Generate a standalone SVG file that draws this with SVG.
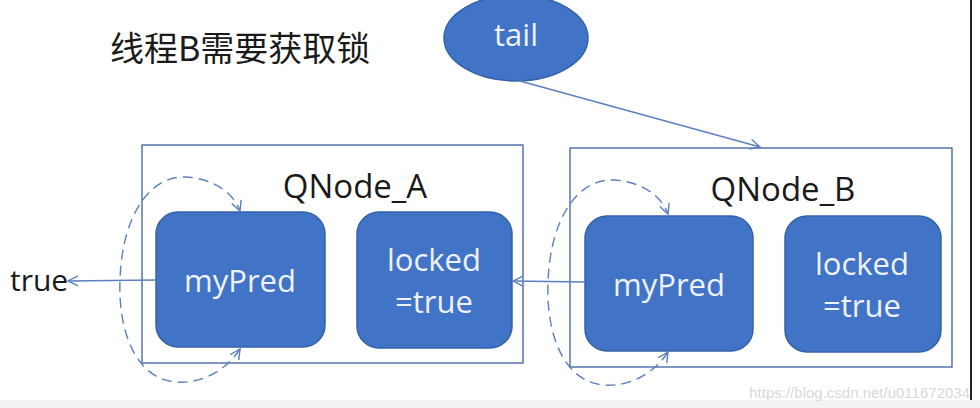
<svg xmlns="http://www.w3.org/2000/svg" width="980" height="408" viewBox="0 0 980 408">
<defs>
<style>
.node{fill:#4173C6;stroke:#3462A8;stroke-width:1.5}
.box{fill:none;stroke:#3C5F9E;stroke-width:1.3}
.nt{font-family:"Open Sans","Noto Sans",sans-serif;font-size:31px;fill:#EEF2FA;text-anchor:middle}
.lab{font-family:"Open Sans","Noto Sans",sans-serif;font-size:33px;fill:#1a1a1a;text-anchor:middle}
.ln{fill:none;stroke:#5B7FC0;stroke-width:1.4}
.dash{fill:none;stroke:#5B7FC0;stroke-width:1.4;stroke-dasharray:10 6}
</style>
<marker id="arr" viewBox="0 0 12 12" refX="11" refY="6" markerWidth="12" markerHeight="12" markerUnits="userSpaceOnUse" orient="auto-start-reverse">
<path d="M1,1 L11,6 L1,11" fill="none" stroke="#5B7FC0" stroke-width="1.4"/>
</marker>
</defs>
<rect width="980" height="408" fill="#ffffff"/>
<rect x="0" y="400" width="980" height="8" fill="#F2F2F2"/>
<line x1="971" y1="0" x2="971" y2="400" stroke="#222" stroke-width="2"/>
<text x="110" y="61" font-family="'Noto Sans CJK SC',sans-serif" font-size="34" fill="#1a1a1a">线程B需要获取锁</text>
<g id="tail">
<ellipse cx="516" cy="38" rx="72" ry="43" class="node"/>
<text x="516" y="46" class="nt">tail</text>
</g>
<g id="QNode_A">
<rect x="142" y="145" width="381" height="218" class="box"/>
<text x="355" y="198" class="lab">QNode_A</text>
</g>
<g id="QNode_B">
<rect x="570" y="148" width="382" height="219" class="box"/>
<text x="783" y="201" class="lab">QNode_B</text>
</g>
<g id="myPred_A">
<rect x="156" y="212" width="169" height="135" rx="22" class="node"/>
<text x="240" y="292" class="nt">myPred</text>
</g>
<g id="locked_A">
<rect x="357" y="212" width="155" height="136" rx="22" class="node"/>
<text x="434" y="271" class="nt">locked</text>
<text x="434" y="313" class="nt">=true</text>
</g>
<g id="myPred_B">
<rect x="585" y="216" width="168" height="135" rx="22" class="node"/>
<text x="669" y="296" class="nt">myPred</text>
</g>
<g id="locked_B">
<rect x="785" y="216" width="156" height="136" rx="22" class="node"/>
<text x="862" y="275" class="nt">locked</text>
<text x="862" y="317" class="nt">=true</text>
</g>
<g id="true">
<text x="10" y="291" font-family="'Open Sans','Noto Sans',sans-serif" font-size="30" fill="#1a1a1a">true</text>
</g>
<g id="connectors">
<line x1="520" y1="81" x2="760" y2="147" class="ln" marker-end="url(#arr)"/>
<line x1="156" y1="280" x2="68" y2="281" class="ln" marker-end="url(#arr)"/>
<line x1="585" y1="282" x2="513" y2="281" class="ln" marker-end="url(#arr)"/>
<path d="M240,349 C225,372 200,384 175,382 C135,378 118,330 120,280 C122,215 150,176 185,177 C210,178 232,190 240,211" class="dash" marker-start="url(#arr)" marker-end="url(#arr)"/>
<path d="M668,352 C653,375 628,387 603,385 C563,381 546,333 548,283 C550,218 578,179 613,180 C638,181 660,193 668,214" class="dash" marker-start="url(#arr)" marker-end="url(#arr)"/>
</g>
<text x="970" y="398" font-family="'Liberation Sans',sans-serif" font-size="15" fill="#D8D8D8" text-anchor="end">https://blog.csdn.net/u011672034</text>
</svg>
